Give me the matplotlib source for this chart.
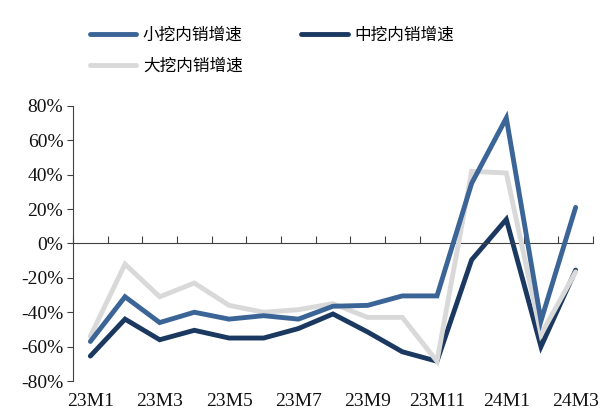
import matplotlib.pyplot as plt
from matplotlib.ticker import FuncFormatter, FixedLocator

months = ["23M1", "23M2", "23M3", "23M4", "23M5", "23M6", "23M7", "23M8",
          "23M9", "23M10", "23M11", "23M12", "24M1", "24M2", "24M3"]
small = [-57, -31, -46, -40, -44, -42, -44, -36.5, -36, -30.5, -30.5, 35, 73, -45, 21]
medium = [-65.5, -44, -56, -50.5, -55, -55, -49.5, -41, -51.5, -63, -68.5, -9.5, 14, -60, -15.5]
large = [-54, -12, -31, -23, -36, -40, -38.5, -35, -43, -43, -68.5, 42, 41, -53, -16.5]
labels = ["小挖内销增速", "中挖内销增速", "大挖内销增速"]

c_small = "#3B6497"
c_medium = "#1B3960"
c_large = "#D9D9D9"

plt.rcParams['font.family'] = ['Liberation Serif', 'DejaVu Serif']

fig = plt.figure(figsize=(6.11, 4.18), dpi=100)
ax = fig.add_axes([0.1195, 0.0885, 0.851, 0.658])

x = list(range(len(months)))
l1, = ax.plot(x, small, color=c_small, lw=3.5, zorder=4, solid_capstyle="round", solid_joinstyle="miter", label=labels[0])
l2, = ax.plot(x, medium, color=c_medium, lw=3.5, zorder=2, solid_capstyle="round", solid_joinstyle="miter", label=labels[1])
l3, = ax.plot(x, large, color=c_large, lw=3.5, zorder=3, solid_capstyle="round", solid_joinstyle="miter", label=labels[2])

ax.set_xlim(-0.5, len(months) - 0.5)
ax.set_ylim(-80, 80)
ax.set_yticks(range(-80, 81, 20))
ax.yaxis.set_major_formatter(FuncFormatter(lambda v, p: f"{v:.0f}%"))
ax.tick_params(axis="y", direction="out", length=4, width=0.8, color="#404040", labelsize=14, pad=3)

ax.spines["top"].set_visible(False)
ax.spines["right"].set_visible(False)
ax.spines["left"].set_color("#404040")
ax.spines["bottom"].set_color("#404040")
ax.spines["bottom"].set_position(("data", 0))

ax.xaxis.set_major_locator(FixedLocator([i - 0.5 for i in range(len(months) + 1)]))
ax.tick_params(axis="x", direction="in", length=5, width=0.8, color="#404040", labelbottom=False)
for i in range(0, len(months), 2):
    ax.text(i, -0.075, months[i], transform=ax.get_xaxis_transform(),
            ha="center", va="center", fontsize=14, color="#111111")

for t in ax.get_yticklabels():
    t.set_color("#111111")

# column-major fill: put small & medium in the first row
fig.legend(handles=[l1, l3, l2], labels=[labels[0], labels[2], labels[1]], ncol=2, loc="upper left",
           bbox_to_anchor=(0.122, 0.972), frameon=False,
           prop={"family": ["Noto Sans CJK SC"], "size": 12},
           handlelength=2.8, handletextpad=0.4, columnspacing=3.5, labelspacing=0.85)

fig.savefig("out.png", dpi=100)
